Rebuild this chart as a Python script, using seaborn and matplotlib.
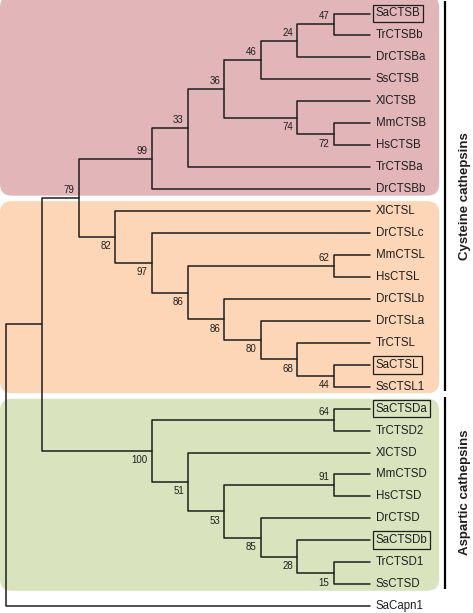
import matplotlib
matplotlib.use('Agg')
import numpy as np
import pandas as pd
import matplotlib.pyplot as plt
from matplotlib.patches import FancyBboxPatch
import seaborn as sns

# tips, top to bottom
leaves = ['SaCTSB', 'TrCTSBb', 'DrCTSBa', 'SsCTSB', 'XlCTSB', 'MmCTSB', 'HsCTSB',
          'TrCTSBa', 'DrCTSBb', 'XlCTSL', 'DrCTSLc', 'MmCTSL', 'HsCTSL', 'DrCTSLb',
          'DrCTSLa', 'TrCTSL', 'SaCTSL', 'SsCTSL1', 'SaCTSDa', 'TrCTSD2', 'XlCTSD',
          'MmCTSD', 'HsCTSD', 'DrCTSD', 'SaCTSDb', 'TrCTSD1', 'SsCTSD', 'SaCapn1']
boxed = ['SaCTSB', 'SaCTSL', 'SaCTSDa', 'SaCTSDb']

# internal nodes (children before parents) and bootstrap support
node_names = ['K', 'J', 'H', 'L', 'I', 'G', 'F', 'D', 'O', 'S', 'R', 'Q', 'P', 'N',
              'M', 'E', 'B', 'T', 'Z', 'Y', 'X', 'W', 'V', 'U', 'C', 'A', 'root']
node_children = [['SaCTSB', 'TrCTSBb'], ['K', 'DrCTSBa'], ['J', 'SsCTSB'],
                 ['MmCTSB', 'HsCTSB'], ['XlCTSB', 'L'], ['H', 'I'], ['G', 'TrCTSBa'],
                 ['F', 'DrCTSBb'], ['MmCTSL', 'HsCTSL'], ['SaCTSL', 'SsCTSL1'],
                 ['TrCTSL', 'S'], ['DrCTSLa', 'R'], ['DrCTSLb', 'Q'], ['O', 'P'],
                 ['DrCTSLc', 'N'], ['XlCTSL', 'M'], ['D', 'E'],
                 ['SaCTSDa', 'TrCTSD2'], ['TrCTSD1', 'SsCTSD'], ['SaCTSDb', 'Z'],
                 ['DrCTSD', 'Y'], ['MmCTSD', 'HsCTSD'], ['W', 'X'], ['XlCTSD', 'V'],
                 ['T', 'U'], ['B', 'C'], ['A', 'SaCapn1']]
node_support = [47, 24, 46, 72, 74, 36, 33, 99, 62, 44, 68, 80, 86, 86,
                97, 82, 79, 64, 15, 28, 85, 91, 53, 51, 100, None, None]

# shaded clades and side brackets
shade_ranges = [('SaCTSB', 'DrCTSBb'), ('XlCTSL', 'SsCTSL1'), ('SaCTSDa', 'SsCTSD')]
shade_colors = ['#e2b6b9', '#fcd6b6', '#d9e4bf']
group_names = ['Cysteine cathepsins', 'Aspartic cathepsins']
group_ranges = [('SaCTSB', 'SsCTSL1'), ('SaCTSDa', 'SsCTSD')]

# layout: leaves at index, nodes at mean of children, x from node height
ypos = {n: i for i, n in enumerate(leaves)}
height = {n: 0 for n in leaves}
for name, ch in zip(node_names, node_children):
    ypos[name] = np.mean([ypos[c] for c in ch])
    height[name] = 1 + max(height[c] for c in ch)
maxh = height['root']
xpos = {n: maxh - h for n, h in height.items()}

rows = []
for name, ch in zip(node_names, node_children):
    c1, c2 = ch
    pts = [(xpos[c1], ypos[c1]), (xpos[name], ypos[c1]),
           (xpos[name], ypos[c2]), (xpos[c2], ypos[c2])]
    for k, (x, y) in enumerate(pts):
        rows.append({'node': name, 'order': k, 'x': x, 'y': y})
seg = pd.DataFrame(rows)

sns.set_style('white')
plt.rcParams['font.family'] = ['Liberation Sans', 'DejaVu Sans']

fig = plt.figure(figsize=(4.73, 6.13), dpi=100)
ax = fig.add_axes([0, 0, 1, 1])
xpx, ypx = 36.4, 21.95          # pixels per unit
ax.set_xlim(-6 / xpx, (473 - 6) / xpx)
ax.set_ylim((613 - 13.5) / ypx, -13.5 / ypx)
ax.axis('off')

# background boxes
aspect = xpx / ypx
for (a, b), col in zip(shade_ranges, shade_colors):
    top = ypos[a] - 0.45 if ypos[a] > 0 else ax.get_ylim()[1] - 0.2
    bot = ypos[b] + 0.3
    left, right = -6 / xpx, maxh + 1.9
    ax.add_patch(FancyBboxPatch((left, top), right - left, bot - top,
                                boxstyle='round,pad=0,rounding_size=0.33',
                                mutation_aspect=aspect, fc=col, ec='none', zorder=0))

sns.lineplot(data=seg, x='x', y='y', units='node', estimator=None, sort=False,
             color='#1e1e1e', lw=1.1, legend=False, ax=ax, zorder=3)
ax.axis('off')

# tip labels
for n in leaves:
    kw = {}
    if n in boxed:
        kw['bbox'] = dict(boxstyle='square,pad=0.25', fc='none', ec='#1e1e1e', lw=0.9)
    ax.annotate(n, (xpos[n], ypos[n]), xytext=(4, 0), textcoords='offset points',
                ha='left', va='center', fontsize=8.3, color='#1e1e1e', **kw)

# bootstrap values
parent = {}
for name, ch in zip(node_names, node_children):
    for k, c in enumerate(ch):
        parent[c] = k
for name, s in zip(node_names, node_support):
    if s is None:
        continue
    dy = 5.8 if parent[name] == 0 else -6.8
    ax.annotate(str(s), (xpos[name], ypos[name]), xytext=(-3, dy),
                textcoords='offset points', ha='right', va='center',
                fontsize=7, color='#1e1e1e')

# side brackets
bx = maxh + 2.06
for g, (a, b) in zip(group_names, group_ranges):
    top = ypos[a] - 0.55 if ypos[a] > 0 else ax.get_ylim()[1] + 0.05
    bot = ypos[b] + 0.2
    ax.plot([bx, bx], [top, bot], color='black', lw=1.6, solid_capstyle='butt')
    ax.text(bx + 0.55, (top + bot) / 2, g, rotation=90, ha='center', va='center',
            fontsize=9.5, fontweight='bold', color='#1e1e1e')

fig.savefig('out.png', dpi=100)
